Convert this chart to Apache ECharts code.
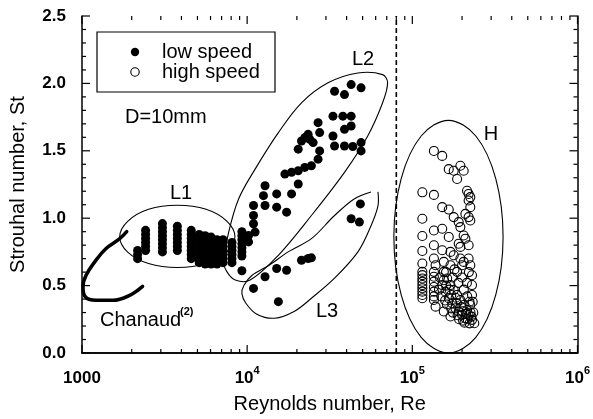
<!DOCTYPE html>
<html>
<head>
<meta charset="utf-8">
<script src="https://cdn.jsdelivr.net/npm/echarts@6/dist/echarts.min.js"></script>
<style>
  html, body { margin: 0; padding: 0; background: #fff; }
  #chart { width: 593px; height: 419px; }
</style>
</head>
<body>
<div id="chart"></div>
<script>
// Strouhal number vs Reynolds number, D = 10 mm

// low-speed measurements [Re, St]
const lowSpeed = [
  // group L1
  [2171,0.70],[2171,0.73],[2171,0.76],
  [2426,0.76],[2426,0.79],[2426,0.82],[2426,0.85],[2426,0.88],[2426,0.91],
  [3069,0.75],[3069,0.78],[3069,0.81],[3069,0.84],[3069,0.87],[3069,0.90],[3069,0.93],[3069,0.96],
  [3779,0.76],[3779,0.79],[3779,0.82],[3779,0.85],[3779,0.88],[3779,0.91],[3779,0.94],
  [4586,0.70],[4586,0.73],[4586,0.76],[4586,0.79],[4586,0.82],[4586,0.85],[4586,0.88],[4586,0.91],
  [5124,0.67],[5124,0.70],[5124,0.73],[5124,0.76],[5124,0.79],[5124,0.82],[5124,0.85],[5124,0.88],
  [5567,0.66],[5567,0.69],[5567,0.72],[5567,0.75],[5567,0.78],[5567,0.81],[5567,0.84],[5567,0.87],
  [6049,0.66],[6049,0.69],[6049,0.72],[6049,0.75],[6049,0.78],[6049,0.81],[6049,0.84],[6049,0.86],
  [6573,0.66],[6573,0.69],[6573,0.72],[6573,0.75],[6573,0.78],[6573,0.81],[6573,0.84],
  [7143,0.67],[7143,0.70],[7143,0.73],[7143,0.76],[7143,0.79],[7143,0.82],[7143,0.84],
  [8091,0.67],[8091,0.70],[8091,0.73],[8091,0.76],[8091,0.79],[8091,0.82],
  [9292,0.72],[9292,0.75],[9292,0.78],[9292,0.81],[9292,0.84],[9292,0.87],[9292,0.90],[9292,0.61],
  // group L2
  [10925,1.094],[10925,1.020],[10925,0.959],[11170,0.897],[10195,0.872],[10195,0.824],
  [12830,1.241],[12550,1.167],[12830,1.094],[15090,1.180],[15090,1.082],[17330,1.045],
  [18570,1.180],[20380,1.254],[16920,1.327],[18570,1.340],[20380,1.352],[22330,1.377],
  [24490,1.389],[26870,1.438],[27470,1.499],[20380,1.512],[21330,1.573],[22330,1.598],
  [23400,1.622],[23920,1.586],[25080,1.561],[26870,1.709],[27470,1.635],
  [33080,1.757],[37980,1.757],[42620,1.757],[33080,1.610],[38830,1.659],[42620,1.684],
  [33820,1.536],[38830,1.536],[43630,1.532],[48940,1.561],[48940,1.499],
  [33820,1.942],[38830,1.917],[42620,1.991],[48940,1.967],
  // group L3
  [48480,1.106],[42620,0.996],[47810,0.971],[21330,0.688],[23400,0.701],[24490,0.706],
  [15090,0.627],[17330,0.614],[12830,0.566],[10925,0.479],[15450,0.381]
];

// high-speed measurements [Re, St]
const highSpeed = [
  [135100,1.499],[151700,1.462],[166200,1.364],[178100,1.352],[195400,1.389],[204600,1.352],
  [186700,1.291],[115000,1.192],[135100,1.173],[214400,1.204],[219200,1.180],[224400,1.156],
  [219200,1.131],[151700,1.082],[166200,1.064],[178100,1.008],[190900,0.971],[195400,0.934],
  [224400,1.082],[209500,1.032],[219200,1.008],[224400,0.983],[115000,0.996],[135100,0.909],
  [151700,0.922],[166200,0.861],[115000,0.868],[204600,0.872],[209500,0.848],[219200,0.799],
  [190900,0.811],[195400,0.787],[135100,0.799],[151700,0.762],[170200,0.750],[178100,0.725],
  [115000,0.757],[135100,0.701],[138300,0.651],[155100,0.676],
  [115000,0.664],[115000,0.602],[115000,0.578],[115000,0.553],[115000,0.529],[115000,0.504],
  [115000,0.480],[115000,0.455],[115000,0.430],[115000,0.406],
  [135100,0.602],[135100,0.566],[135100,0.529],[135100,0.490],[135100,0.455],[135100,0.420],
  [135100,0.393],[138300,0.344],[155100,0.308],[170200,0.271],
  [155100,0.602],[162600,0.553],[170200,0.504],[178100,0.467],[186700,0.430],[195400,0.393],
  [204600,0.356],[214400,0.319],[219200,0.282],[229800,0.246],[237200,0.221],
  [170200,0.651],[186700,0.602],[200100,0.651],[219200,0.701],[224400,0.651],[229800,0.577],
  [229800,0.504],[229800,0.430],[224400,0.356],[195400,0.701],[204600,0.676],
  [151700,0.504],[158800,0.455],[166200,0.406],[174300,0.369],[182400,0.332],[190900,0.308],
  [200100,0.282],[209500,0.258],
  [147000,0.560],[160000,0.600],[175000,0.560],[190000,0.520],[205000,0.470],[215000,0.420],
  [222000,0.380],[180000,0.620],[200000,0.560],[214000,0.520],[220000,0.600],[150000,0.420],
  [162000,0.360],[176000,0.300],[192000,0.250],[207000,0.225],[225000,0.300],[232000,0.380],
  [155000,0.540],[168000,0.470],[183000,0.410],[198000,0.340],[212000,0.290],[228000,0.270],
  [160000,0.500],[172000,0.430],[186000,0.370],[201000,0.310],[216000,0.250],[234000,0.300],
  [145000,0.470],[158000,0.390],[172000,0.330],[188000,0.280],[203000,0.240],[222000,0.220]
];

// Chanaud's curve [Re, St]
const chanaudCurve = [
  [1865,0.900],[1692,0.848],[1394,0.774],[1197,0.678],[1057,0.575],[1014,0.494],
  [1042,0.420],[1214,0.391],[1536,0.391],[1944,0.428],[2327,0.494]
];

// boundary between low and high speed runs
const separatorRe = 80000;

// outlines enclosing the data groups [Re, St]
const outlineL1 = [
  [8433,0.863],[7551,0.977],[5645,1.066],[3779,1.096],[2529,1.066],[1891,0.977],
  [1692,0.863],[1891,0.749],[2529,0.664],[3779,0.634],[5645,0.664],[7551,0.749]
];
const outlineL2 = [
  [8472,0.541],[10424,0.541],[15450,0.725],[24490,1.020],[38830,1.340],[53700,1.610],
  [66090,1.856],[70850,2.004],[66090,2.065],[46750,2.077],[30870,2.004],[21330,1.856],
  [15450,1.635],[11170,1.364],[8875,1.143],[7730,0.897],[7210,0.676],[7551,0.602]
];
const outlineL3 = [
  [56230,1.195],[44420,1.143],[33690,1.018],[24490,0.848],[17810,0.752],[13500,0.649],
  [10670,0.575],[9550,0.501],[9290,0.442],[9820,0.369],[11440,0.288],[14680,0.258],
  [19360,0.310],[24490,0.406],[33690,0.553],[46960,0.752],[56230,0.944],[61940,1.091],
  [61940,1.195]
];
const outlineH = [
  [354400,0.863],[320000,1.294],[242300,1.610],[165500,1.726],[113100,1.610],[85620,1.294],
  [77300,0.863],[85620,0.431],[113100,0.116],[165500,0.0],[242300,0.116],[320000,0.431]
];

// axis ranges and ticks
const xRange = [1000, 1000000];
const yRange = [0, 2.5];
const xMajorTicks = [1000, 10000, 100000, 1000000];
const xMinorTicks = [];
for (let d = 1000; d < 1000000; d *= 10) {
  for (let k = 2; k <= 9; k++) xMinorTicks.push(d * k);
}
const yMajorTicks = [0, 0.5, 1.0, 1.5, 2.0, 2.5];
const yMinorTicks = [0.1, 0.2, 0.3, 0.4, 0.6, 0.7, 0.8, 0.9, 1.1, 1.2, 1.3, 1.4,
                     1.6, 1.7, 1.8, 1.9, 2.1, 2.2, 2.3, 2.4];

// tick marks drawn on all four sides of the frame, pointing inwards
const tickItems = [].concat(
  xMajorTicks.map(v => ({ dir: 'x', v, major: true })),
  xMinorTicks.map(v => ({ dir: 'x', v, major: false })),
  yMajorTicks.map(v => ({ dir: 'y', v, major: true })),
  yMinorTicks.map(v => ({ dir: 'y', v, major: false }))
);

const regionShapes = [
  { pts: outlineL1, closed: true },
  { pts: outlineL2, closed: true },
  { pts: outlineL3, closed: false },
  { pts: outlineH, closed: true }
];

const FONT = '"Liberation Sans", Arial, Helvetica, sans-serif';
const axisLineStyle = { color: '#000', width: 1.5 };

const chart = echarts.init(document.getElementById('chart'), null, { renderer: 'canvas' });

function xLabel(v) {
  const e = Math.round(Math.log10(v));
  if (e === 3) return '{b|1000}';
  return '{b|10}{s|' + e + '}';
}

const option = {
  backgroundColor: '#fff',
  animation: false,
  grid: { left: 79, right: 15, top: 16, bottom: 64 },
  xAxis: [
    {
      type: 'log', logBase: 10, min: xRange[0], max: xRange[1], position: 'bottom',
      name: 'Reynolds number, Re', nameLocation: 'middle', nameGap: 41,
      nameTextStyle: { fontFamily: FONT, fontSize: 20, color: '#000' },
      axisLine: { show: true, lineStyle: axisLineStyle },
      axisTick: { show: false },
      axisLabel: {
        formatter: xLabel, margin: 12,
        rich: {
          b: { fontFamily: FONT, fontSize: 17, fontWeight: 'bold', color: '#000', lineHeight: 22, verticalAlign: 'bottom' },
          s: { fontFamily: FONT, fontSize: 11, fontWeight: 'bold', color: '#000', lineHeight: 22, verticalAlign: 'top' }
        }
      },
      splitLine: { show: false }
    },
    {
      type: 'log', logBase: 10, min: xRange[0], max: xRange[1], position: 'top',
      axisLine: { show: true, lineStyle: axisLineStyle },
      axisTick: { show: false },
      axisLabel: { show: false }, splitLine: { show: false }
    }
  ],
  yAxis: [
    {
      type: 'value', min: yRange[0], max: yRange[1], interval: 0.5, position: 'left',
      name: 'Strouhal number, St', nameLocation: 'middle', nameGap: 54, nameRotate: 90,
      nameTextStyle: { fontFamily: FONT, fontSize: 20, color: '#000' },
      axisLine: { show: true, lineStyle: axisLineStyle },
      axisTick: { show: false },
      axisLabel: {
        formatter: v => v.toFixed(1), margin: 16,
        fontFamily: FONT, fontSize: 17, fontWeight: 'bold', color: '#000'
      },
      splitLine: { show: false }
    },
    {
      type: 'value', min: yRange[0], max: yRange[1], interval: 0.5, position: 'right',
      axisLine: { show: true, lineStyle: axisLineStyle },
      axisTick: { show: false },
      axisLabel: { show: false }, splitLine: { show: false }
    }
  ],
  series: [
    {
      name: 'axis ticks', type: 'custom', xAxisIndex: 0, yAxisIndex: 0,
      data: tickItems.map(t => (t.dir === 'x' ? [t.v, yRange[0]] : [xRange[0], t.v])),
      renderItem: (params, api) => {
        const t = tickItems[params.dataIndex];
        const len = t.major ? 8 : 4;
        const st = { stroke: '#000', lineWidth: 1.2 };
        let a, b;
        if (t.dir === 'x') {
          a = api.coord([t.v, yRange[0]]);
          b = api.coord([t.v, yRange[1]]);
          return {
            type: 'group', silent: true,
            children: [
              { type: 'line', shape: { x1: a[0], y1: a[1], x2: a[0], y2: a[1] - len }, style: st },
              { type: 'line', shape: { x1: b[0], y1: b[1], x2: b[0], y2: b[1] + len }, style: st }
            ]
          };
        }
        a = api.coord([xRange[0], t.v]);
        b = api.coord([xRange[1], t.v]);
        return {
          type: 'group', silent: true,
          children: [
            { type: 'line', shape: { x1: a[0], y1: a[1], x2: a[0] + len, y2: a[1] }, style: st },
            { type: 'line', shape: { x1: b[0], y1: b[1], x2: b[0] - len, y2: b[1] }, style: st }
          ]
        };
      },
      clip: false, z: 1
    },
    {
      name: 'groups', type: 'custom', xAxisIndex: 0, yAxisIndex: 0,
      data: regionShapes.map(r => r.pts[0]),
      renderItem: (params, api) => {
        const r = regionShapes[params.dataIndex];
        const pts = r.pts.map(p => api.coord(p));
        return {
          type: r.closed ? 'polygon' : 'polyline',
          shape: { points: pts, smooth: 0.35 },
          style: { fill: null, stroke: '#000', lineWidth: 1.1 },
          silent: true
        };
      },
      z: 1
    },
    {
      name: 'separator', type: 'line', xAxisIndex: 0, yAxisIndex: 0,
      data: [[separatorRe, yRange[0]], [separatorRe, yRange[1]]],
      symbol: 'none',
      lineStyle: { color: '#000', width: 1.6, type: [5, 3] },
      z: 2
    },
    {
      name: 'Chanaud', type: 'line', xAxisIndex: 0, yAxisIndex: 0,
      data: chanaudCurve, smooth: 0.4, symbol: 'none',
      lineStyle: { color: '#000', width: 3.5, cap: 'round' },
      z: 3
    },
    {
      name: 'low speed', type: 'scatter', xAxisIndex: 0, yAxisIndex: 0,
      data: lowSpeed, symbol: 'circle', symbolSize: 9,
      itemStyle: { color: '#000', opacity: 1 }, z: 4
    },
    {
      name: 'high speed', type: 'scatter', xAxisIndex: 0, yAxisIndex: 0,
      data: highSpeed, symbol: 'circle', symbolSize: 9,
      itemStyle: { color: 'rgba(0,0,0,0)', borderColor: '#000', borderWidth: 1.1, opacity: 1 }, z: 4
    }
  ],
  graphic: [
    // legend box
    { type: 'rect', shape: { x: 97, y: 32, width: 178, height: 60 }, style: { fill: '#fff', stroke: '#000', lineWidth: 1.2 }, z: 10 },
    { type: 'circle', shape: { cx: 135, cy: 52, r: 4.2 }, style: { fill: '#000' }, z: 11 },
    { type: 'circle', shape: { cx: 135, cy: 72, r: 4.2 }, style: { fill: '#fff', stroke: '#000', lineWidth: 1.1 }, z: 11 },
    { type: 'text', x: 162, y: 52, style: { text: 'low speed', font: '20px ' + FONT, fill: '#000', verticalAlign: 'middle' }, z: 11 },
    { type: 'text', x: 162, y: 72, style: { text: 'high speed', font: '20px ' + FONT, fill: '#000', verticalAlign: 'middle' }, z: 11 },
    // annotations
    { type: 'text', x: 125, y: 117, style: { text: 'D=10mm', font: '20px ' + FONT, fill: '#000', verticalAlign: 'middle' }, z: 11 },
    { type: 'text', x: 181, y: 193, style: { text: 'L1', font: '20px ' + FONT, fill: '#000', align: 'center', verticalAlign: 'middle' }, z: 11 },
    { type: 'text', x: 363, y: 59, style: { text: 'L2', font: '20px ' + FONT, fill: '#000', align: 'center', verticalAlign: 'middle' }, z: 11 },
    { type: 'text', x: 327, y: 311, style: { text: 'L3', font: '20px ' + FONT, fill: '#000', align: 'center', verticalAlign: 'middle' }, z: 11 },
    { type: 'text', x: 491, y: 134, style: { text: 'H', font: '20px ' + FONT, fill: '#000', align: 'center', verticalAlign: 'middle' }, z: 11 },
    { type: 'text', x: 100, y: 320, style: { text: 'Chanaud', font: '20px ' + FONT, fill: '#000', verticalAlign: 'middle' }, z: 11 },
    { type: 'text', x: 180, y: 312, style: { text: '(2)', font: 'bold 11px ' + FONT, fill: '#000', verticalAlign: 'middle' }, z: 11 }
  ]
};

chart.setOption(option);
</script>
</body>
</html>
